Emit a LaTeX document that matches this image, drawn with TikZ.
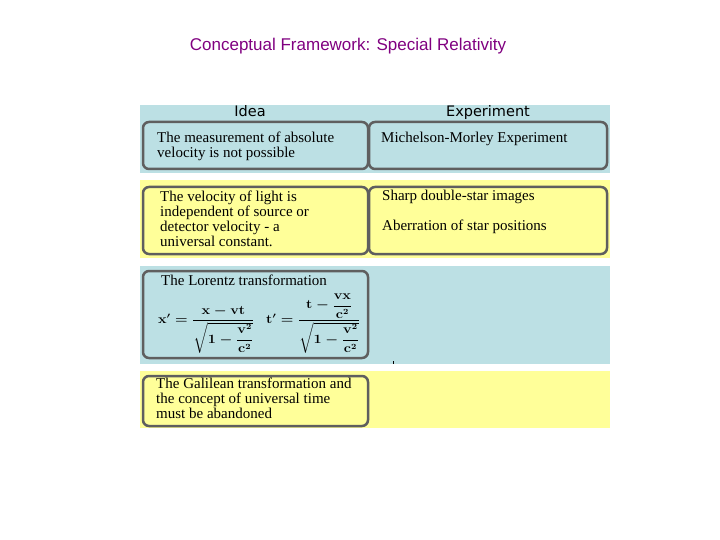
\documentclass[tikz,border=0pt]{standalone}
\usepackage{amsmath}
\usepackage{graphicx}
\usepackage{fontspec}
\setmainfont{Liberation Serif}
\newfontfamily\titlefont{Liberation Sans}
\newfontfamily\headfont{DejaVu Sans}
\usetikzlibrary{positioning}
\definecolor{bandblue}{RGB}{188,224,228}
\definecolor{bandyellow}{RGB}{255,255,153}
\definecolor{titlepurple}{RGB}{128,0,128}
\definecolor{rimgray}{RGB}{95,95,95}
\tikzset{
	rim/.style = {draw = rimgray, line width = 2.5pt, rounded corners = 6pt},
	words/.style = {font = \fontsize{15}{15}\selectfont, align = left, anchor = north west, inner sep = 0pt},
	heading/.style = {font = \headfont\fontsize{14.5}{16}\selectfont, inner sep = 0pt, anchor = base},
	formula/.style = {font = \fontsize{13.5}{15}\selectfont\boldmath, inner sep = 0pt, anchor = base west}
}
\begin{document}
\begin{tikzpicture}[x = 1pt, y = -1pt]
		\useasboundingbox (0, 0) rectangle (720, 540);
		\node[font = \titlefont\fontsize{17}{20}\selectfont, text = titlepurple] (title) at (348, 46) {Conceptual Framework: Special Relativity};
		\foreach \ya/\yb/\shade in {105/173/bandblue, 180/258/bandyellow, 266/364/bandblue, 371/428/bandyellow}{
			\fill[\shade] (140, \ya) rectangle (610, \yb);}
		\foreach \xa/\ya/\xb/\yb in {143/122/368/169, 369/122/607/169, 143/187/368/254, 369/187/607/254, 143/271/368/358, 143/376/368/426}{
			\draw[rim] (\xa, \ya) rectangle (\xb, \yb);}
		\fill (392.5, 361) rectangle (393.5, 364);
		\node[heading] (idea) at (250, 117) {Idea};
		\node[heading] (experiment) at (488, 117) {Experiment};
		\node[words] (absolute) at (157, 132) {The measurement of absolute\\velocity is not possible};
		\node[words] (michelson) at (381, 132) {Michelson-Morley Experiment};
		\node[words] (lightspeed) at (160, 191) {The velocity of light is\\independent of source or\\detector velocity - a\\universal constant.};
		\node[words] (doublestar) at (382, 190) {Sharp double-star images\\[15pt]Aberration of star positions};
		\node[words] (lorentz) at (161, 275) {The Lorentz transformation};
		\node[formula] (xprime) at (158, 323.5) {\scalebox{1}[0.88]{$\mathbf{x}' = \dfrac{\mathbf{x} - \mathbf{vt}}{\sqrt{1 - \dfrac{\mathbf{v}^2}{\mathbf{c}^2}}}$}};
		\node[formula] (tprime) at (266, 323.5) {\scalebox{1}[0.88]{$\mathbf{t}' = \dfrac{\mathbf{t} - \dfrac{\mathbf{vx}}{\mathbf{c}^2}}{\sqrt{1 - \dfrac{\mathbf{v}^2}{\mathbf{c}^2}}}$}};
		\node[words] (galilean) at (156, 378) {The Galilean transformation and\\the concept of universal time\\must be abandoned};
\end{tikzpicture}
\end{document}
